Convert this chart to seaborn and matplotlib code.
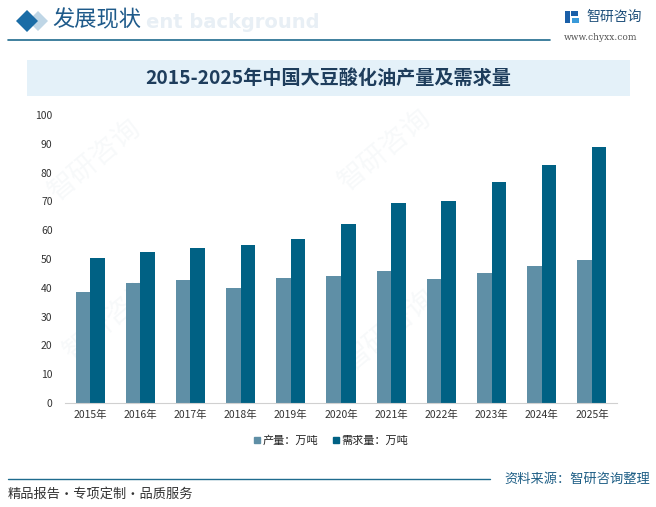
import matplotlib
matplotlib.use("Agg")
import matplotlib.pyplot as plt
import seaborn as sns
import pandas as pd
import numpy as np
from matplotlib.patches import Polygon, Rectangle
from matplotlib.lines import Line2D
from matplotlib.ticker import FixedLocator

years = ["2015年", "2016年", "2017年", "2018年", "2019年", "2020年",
         "2021年", "2022年", "2023年", "2024年", "2025年"]
production = [38.4, 41.5, 42.6, 40.1, 43.3, 44.0, 45.7, 42.9, 45.0, 47.4, 49.5]
demand = [50.2, 52.3, 53.7, 54.7, 56.8, 62.3, 69.3, 70.3, 76.6, 82.5, 88.8]
series_names = ["产量：万吨", "需求量：万吨"]
colors = ["#5F8FA6", "#006184"]

sns.set_theme(style="white")
plt.rcParams['font.family'] = ['Noto Sans CJK SC', 'DejaVu Sans']

df = pd.DataFrame({
    "year": years * 2,
    "value": production + demand,
    "series": [series_names[0]] * len(years) + [series_names[1]] * len(years),
})

W, H = 656, 507
fig = plt.figure(figsize=(W / 100, H / 100), dpi=100)
fig.patch.set_facecolor("white")

def fx(px):
    return px / W

def fy(py):
    return 1 - py / H

# Faint watermarks (behind everything)
for (x, y) in [(95, 160), (110, 320), (385, 150), (390, 330)]:
    fig.text(fx(x), fy(y), "智研咨询", ha="center", va="center", fontsize=20,
             color="#A0B4C4", alpha=0.08, rotation=40, zorder=-5)

ax = fig.add_axes([fx(65), fy(403), fx(617) - fx(65), fy(115) - fy(403)])
ax.patch.set_alpha(0)
sns.barplot(data=df, x="year", y="value", hue="series", palette=colors,
            width=0.58, gap=0, ax=ax, legend=False, saturation=1,
            linewidth=0, edgecolor="none")

ax.set_ylim(0, 100)
ax.set_yticks(np.arange(0, 101, 10))
ax.set_xlim(-0.5, len(years) - 0.5)
ax.set_xlabel("")
ax.set_ylabel("")
for s in ["top", "right", "left"]:
    ax.spines[s].set_visible(False)
ax.spines["bottom"].set_color("#D0D0D0")
ax.spines["bottom"].set_linewidth(0.8)
ax.tick_params(axis="y", length=0, labelsize=7.5, labelcolor="#333333", pad=9)
ax.tick_params(axis="x", which="major", length=0, labelsize=7.5, labelcolor="#333333", pad=5)
ax.xaxis.set_minor_locator(FixedLocator(np.arange(-0.5, len(years), 1.0)))
ax.tick_params(axis="x", which="minor", length=4, color="#D0D0D0", width=0.8)
ax.grid(False)

# Legend
handles = [Line2D([0], [0], marker="s", linestyle="", markersize=5,
                  markerfacecolor=c, markeredgecolor=c) for c in colors]
fig.legend(handles, series_names, loc="center", bbox_to_anchor=(fx(330), fy(441)),
           ncol=2, frameon=False, fontsize=8, handletextpad=0.1, columnspacing=1.2,
           labelcolor="#222222", handlelength=0.8)

# Title band
fig.patches.append(Rectangle((fx(27), fy(96)), fx(630) - fx(27), fy(60) - fy(96),
                             transform=fig.transFigure, facecolor="#E4F1F9",
                             edgecolor="none", zorder=0))
fig.text(fx(328), fy(78), "2015-2025年中国大豆酸化油产量及需求量", ha="center", va="center",
         fontsize=13.8, fontweight="bold", color="#1E3D5C")

# Header
fig.text(fx(146), fy(23), "ent background", ha="left", va="center",
         fontsize=14, fontweight="bold", color="#E8EFF5", zorder=1,
         family=["DejaVu Sans"])
fig.patches.append(Polygon([(fx(38), fy(11)), (fx(48), fy(21)), (fx(38), fy(31)), (fx(28), fy(21))],
                           closed=True, transform=fig.transFigure, facecolor="#BFD6E6",
                           edgecolor="none", zorder=2))
fig.patches.append(Polygon([(fx(27), fy(10)), (fx(38), fy(21)), (fx(27), fy(32)), (fx(16), fy(21))],
                           closed=True, transform=fig.transFigure, facecolor="#1A6CA6",
                           edgecolor="none", zorder=3))
fig.text(fx(52), fy(20), "发展现状", ha="left", va="center", fontsize=16,
         color="#1E5A8A", zorder=4)
fig.add_artist(Line2D([fx(8), fx(550)], [fy(40), fy(40)], transform=fig.transFigure,
                      color="#1F6B8E", linewidth=1.2))

# Logo
fig.patches.append(Rectangle((fx(565), fy(23)), fx(5) - fx(0), fy(11) - fy(23),
                             transform=fig.transFigure, facecolor="#1A5FA8", edgecolor="none"))
fig.patches.append(Rectangle((fx(571), fy(16)), fx(7) - fx(0), fy(11) - fy(16),
                             transform=fig.transFigure, facecolor="#1A5FA8", edgecolor="none"))
fig.patches.append(Rectangle((fx(572), fy(23)), fx(7) - fx(0), fy(18) - fy(23),
                             transform=fig.transFigure, facecolor="#3A9AD9", edgecolor="none"))
fig.text(fx(586), fy(17), "智研咨询", ha="left", va="center", fontsize=10, color="#1E4F7A")
fig.text(fx(601), fy(38), "www.chyxx.com", ha="center", va="center", fontsize=6.5,
         color="#555555", family=["DejaVu Serif"])

# Footer
fig.add_artist(Line2D([fx(8), fx(490)], [fy(479), fy(479)], transform=fig.transFigure,
                      color="#1F6B8E", linewidth=1.0))
fig.text(fx(650), fy(479), "资料来源：智研咨询整理", ha="right", va="center",
         fontsize=9.5, color="#1F5F86")
fig.text(fx(8), fy(494), "精品报告·专项定制·品质服务", ha="left", va="center",
         fontsize=9.5, color="#333333")

fig.savefig("out.png", dpi=100, facecolor="white")
